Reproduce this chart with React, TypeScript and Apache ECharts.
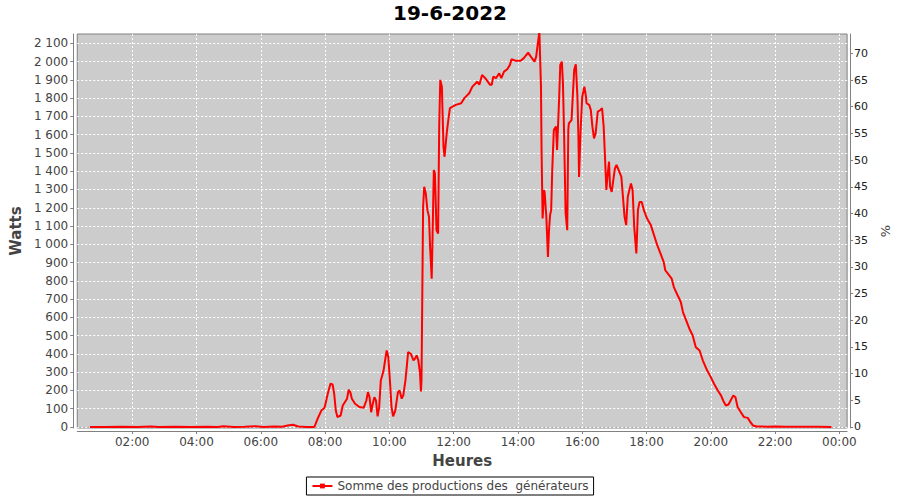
import React, { useEffect, useRef } from "react";
import * as echarts from "echarts";

const chartTitle = "19-6-2022";
const seriesName = "Somme des productions des  générateurs";

const times: string[] = [
  "00:41", "01:10", "01:40", "02:10", "02:35", "02:50", "03:20", "03:50", "04:20", "04:40", "04:50", "05:10",
  "05:30", "05:50", "06:05", "06:25", "06:40", "06:50", "07:00", "07:10", "07:25", "07:40",
  "07:46", "07:53", "07:59", "08:05", "08:10", "08:14", "08:17", "08:20", "08:23", "08:29",
  "08:33", "08:38", "08:41", "08:44", "08:47", "08:50", "08:56", "09:04", "09:12", "09:17",
  "09:20", "09:23", "09:26", "09:29", "09:32", "09:35", "09:38", "09:41", "09:44", "09:49",
  "09:52", "09:55", "09:58", "10:01", "10:04", "10:07", "10:11", "10:16", "10:19", "10:23",
  "10:26", "10:30", "10:33", "10:35", "10:40", "10:45", "10:48", "10:51", "10:54", "10:57",
  "10:59", "11:00", "11:02", "11:03", "11:05", "11:08", "11:11", "11:14", "11:16", "11:19",
  "11:20", "11:23", "11:25", "11:28", "11:31", "11:33", "11:35", "11:38", "11:41", "11:43",
  "11:47", "11:50", "11:53", "11:58", "12:04", "12:14", "12:20", "12:29", "12:35", "12:44",
  "12:48", "12:53", "12:59", "13:08", "13:11", "13:14", "13:19", "13:25", "13:29", "13:34",
  "13:40", "13:45", "13:48", "13:56", "14:05", "14:11", "14:19", "14:24", "14:31", "14:34",
  "14:38", "14:40", "14:43", "14:44", "14:46", "14:49", "14:50", "14:53", "14:56", "14:58",
  "15:00", "15:02", "15:04", "15:07", "15:11", "15:13", "15:17", "15:19", "15:22", "15:24",
  "15:26", "15:29", "15:32", "15:34", "15:35", "15:40", "15:43", "15:45", "15:48", "15:51",
  "15:53", "15:54", "15:57", "16:00", "16:04", "16:07", "16:08", "16:13", "16:16", "16:19",
  "16:22", "16:25", "16:29", "16:34", "16:37", "16:40", "16:43", "16:45", "16:47", "16:50",
  "16:52", "16:55", "16:58", "17:01", "17:04", "17:08", "17:13", "17:16", "17:19", "17:22",
  "17:25", "17:31", "17:34", "17:37", "17:41", "17:44", "17:47", "17:51", "17:55", "18:01",
  "18:08", "18:14", "18:20", "18:26", "18:32", "18:35", "18:42", "18:47", "18:51", "18:58",
  "19:04", "19:08", "19:14", "19:20", "19:26", "19:32", "19:39", "19:45", "19:53", "20:00",
  "20:06", "20:13", "20:19", "20:23", "20:28", "20:33", "20:37", "20:42", "20:46", "20:50",
  "20:56", "21:02", "21:09", "21:14", "21:19", "21:25", "21:45", "22:00", "22:20", "22:40",
  "23:00", "23:20", "23:45",
];

const watts: number[] = [
  0, 0, 1, 0, 3, 0, 1, 0, 2, 0, 4, 0,
  1, 4, 0, 3, 1, 8, 12, 3, 0, 0,
  45, 90, 105, 182, 237, 233, 182, 90, 54, 63,
  118, 141, 155, 204, 191, 155, 127, 109, 105, 145,
  191, 163, 81, 127, 163, 145, 58, 109, 255, 306,
  365, 419, 383, 255, 109, 58, 90, 191, 200, 155,
  173, 255, 346, 410, 401, 365, 374, 392, 365, 300,
  195, 260, 900, 1205, 1315, 1278, 1187, 1150, 986, 812,
  950, 1406, 1388, 1077, 1059, 1644, 1900, 1863, 1534, 1479,
  1607, 1680, 1745, 1753, 1763, 1772, 1800, 1827, 1863, 1890,
  1873, 1927, 1909, 1873, 1873, 1918, 1909, 1936, 1909, 1945,
  1958, 1982, 2013, 2004, 2004, 2019, 2049, 2027, 2000, 2027,
  2119, 2160, 1863, 1534, 1141, 1297, 1278, 1150, 931, 1077,
  1160, 1187, 1406, 1626, 1644, 1516, 1808, 1982, 2000, 1882,
  1626, 1169, 1077, 1626, 1662, 1680, 1845, 1955, 1985, 1808,
  1571, 1369, 1626, 1808, 1863, 1808, 1772, 1763, 1735, 1644,
  1580, 1607, 1726, 1735, 1745, 1644, 1443, 1297, 1369, 1452,
  1315, 1287, 1351, 1415, 1434, 1406, 1369, 1260, 1150, 1105,
  1260, 1333, 1297, 1095, 950, 1187, 1232, 1232, 1187, 1141,
  1105, 1050, 995, 950, 904, 858, 831, 812, 766, 721,
  684, 629, 584, 538, 502, 437, 419, 365, 310, 273,
  237, 200, 173, 145, 118, 123, 145, 173, 163, 109,
  81, 54, 50, 26, 8, 3, 2, 3, 1, 2,
  1, 2, 0,
];

const hourTicks: number[] = [2, 4, 6, 8, 10, 12, 14, 16, 18, 20, 22, 24];
const wattTicks: number[] = [0, 100, 200, 300, 400, 500, 600, 700, 800, 900, 1000, 1100, 1200, 1300, 1400, 1500, 1600, 1700, 1800, 1900, 2000, 2100];
const percentTicks: number[] = [0, 5, 10, 15, 20, 25, 30, 35, 40, 45, 50, 55, 60, 65, 70];

const FONT = "DejaVu Sans";

function toHours(s: string): number {
  const [h, m] = s.split(":").map(Number);
  return h + m / 60;
}

function fmtHour(v: number): string {
  const h = Math.round(v) % 24;
  return (h < 10 ? "0" : "") + h + ":00";
}

function fmtWatt(v: number): string {
  if (v >= 1000) {
    const th = Math.floor(v / 1000);
    const rest = String(v % 1000).padStart(3, "0");
    return th + " " + rest;
  }
  return String(v);
}

export default function App() {
  const ref = useRef<HTMLDivElement>(null);
  useEffect(() => {
    document.body.style.margin = "0";
    if (!ref.current) return;
    const chart = echarts.init(ref.current, null, { renderer: "svg" });
    const data = times.map((t, i) => [toHours(t), watts[i]]);
    const gridDash = { color: "#ffffff", width: 1, type: [2, 2] as any };
    chart.setOption({
      animation: false,
      backgroundColor: "#ffffff",
      title: {
        text: chartTitle,
        left: "center",
        top: 3,
        padding: 0,
        textStyle: { fontFamily: FONT, fontSize: 20, fontWeight: "bold", color: "#000" },
      },
      legend: {
        data: [seriesName],
        left: "center",
        top: 477,
        padding: [3, 5, 3, 5],
        borderColor: "#000",
        borderWidth: 1,
        itemWidth: 20,
        itemHeight: 6,
        textStyle: { fontFamily: FONT, fontSize: 12, color: "#444" },
      },
      grid: {
        left: 77,
        top: 34,
        width: 772,
        height: 394,
        show: true,
        backgroundColor: "#cccccc",
        borderColor: "#808080",
        borderWidth: 1,
        containLabel: false,
      },
      xAxis: {
        type: "value",
        min: 0.29,
        max: 24.24,
        offset: 3,
        name: "Heures",
        nameLocation: "middle",
        nameGap: 22,
        nameTextStyle: { fontFamily: FONT, fontSize: 15, fontWeight: "bold", color: "#444" },
        axisLine: { show: true, onZero: false, lineStyle: { color: "#808080" } },
        axisTick: { show: true, length: 3, customValues: hourTicks, lineStyle: { color: "#808080" } },
        axisLabel: {
          customValues: hourTicks,
          formatter: (v: number) => fmtHour(v),
          fontFamily: FONT,
          fontSize: 12,
          color: "#444",
          margin: 5,
        },
        splitLine: { show: true, lineStyle: gridDash },
      },
      yAxis: [
        {
          type: "value",
          min: -5.5,
          max: 2151,
          offset: 4,
          position: "left",
          name: "Watts",
          nameLocation: "middle",
          nameGap: 46,
          nameRotate: 90,
          nameTextStyle: { fontFamily: FONT, fontSize: 15, fontWeight: "bold", color: "#444" },
          axisLine: { show: true, lineStyle: { color: "#808080" } },
          axisTick: { show: true, length: 3, customValues: wattTicks, lineStyle: { color: "#808080" } },
          axisLabel: {
            customValues: wattTicks,
            formatter: (v: number) => fmtWatt(v),
            fontFamily: FONT,
            fontSize: 12,
            color: "#444",
            margin: 5,
          },
          splitLine: { show: true, lineStyle: gridDash },
        },
        {
          type: "value",
          min: -0.19,
          max: 73.62,
          offset: 3,
          position: "right",
          name: "%",
          nameLocation: "middle",
          nameGap: 25,
          nameRotate: 90,
          nameTextStyle: { fontFamily: FONT, fontSize: 13, color: "#444" },
          axisLine: { show: true, lineStyle: { color: "#808080" } },
          axisTick: { show: true, length: 3, customValues: percentTicks, lineStyle: { color: "#808080" } },
          axisLabel: {
            customValues: percentTicks,
            fontFamily: FONT,
            fontSize: 11,
            color: "#222",
            margin: 4,
          },
          splitLine: { show: false },
        },
      ],
      series: [
        {
          name: seriesName,
          type: "line",
          yAxisIndex: 0,
          data,
          showSymbol: false,
          symbol: "rect",
          symbolSize: 3,
          lineStyle: { color: "#ff0000", width: 2 },
          itemStyle: { color: "#ff0000" },
        },
      ],
    });
    return () => chart.dispose();
  }, []);
  return <div ref={ref} style={{ width: 900, height: 500 }} />;
}
